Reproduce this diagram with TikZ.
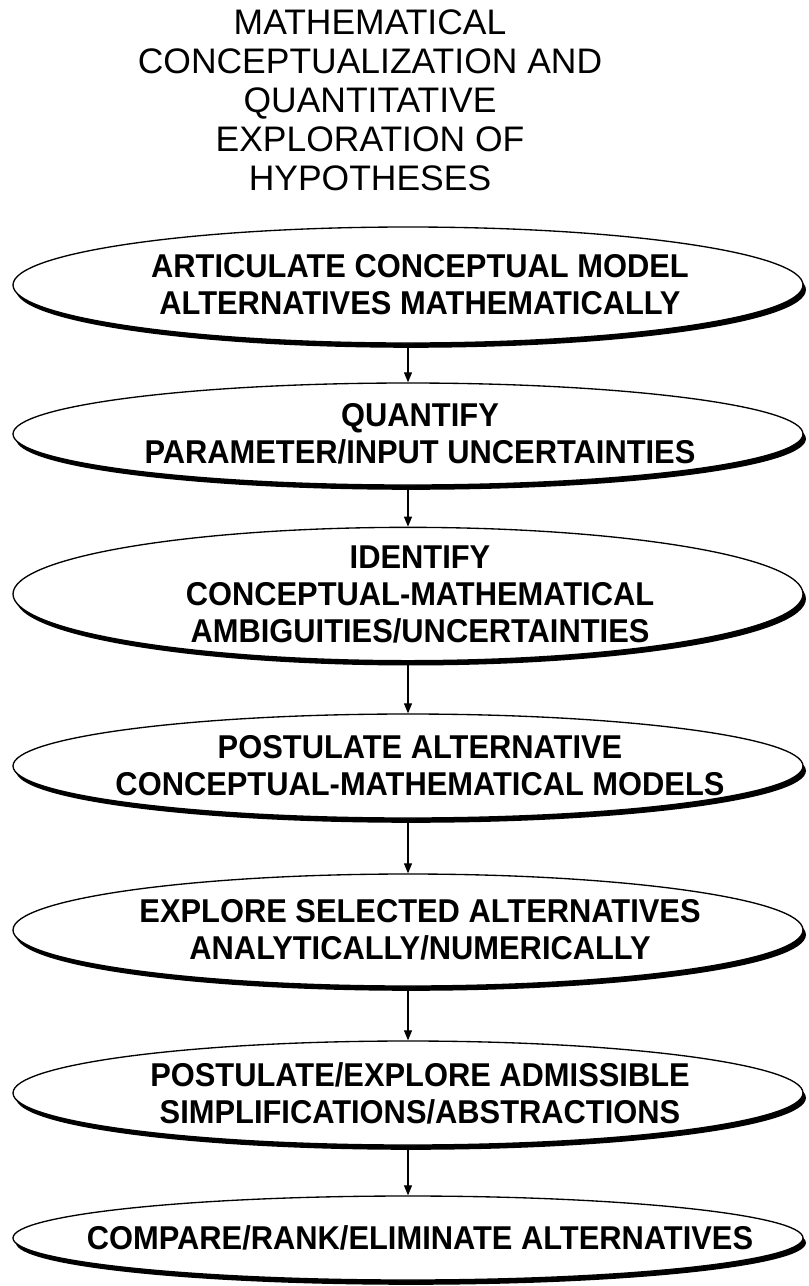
\documentclass[tikz,border=0pt]{standalone}
\usepackage{fontspec}
\setmainfont{Liberation Sans}
\newfontfamily\stagefont{Liberation Sans}[FakeStretch=0.935]
\usetikzlibrary{shapes.geometric}
\usetikzlibrary{shadows}
\usetikzlibrary{arrows.meta}

\begin{document}
\begin{tikzpicture}[x=0.75pt,y=0.75pt,yscale=-1,xscale=1,
  stage/.style={ellipse, draw, line width=1pt, fill=white, inner sep=0pt, minimum width=592.5pt,
    drop shadow={shadow xshift=2.2pt, shadow yshift=-3.6pt, opacity=1, fill=black}},
  stagetext/.style={align=center, inner sep=0pt, xshift=9pt,
    font=\stagefont\bfseries\fontsize{24.75pt}{27.75pt}\selectfont},
  flow/.style={-{Triangle[length=7.5pt,width=6pt]}, line width=0.8pt}]
%set diagram size 809 x 1286
\useasboundingbox (0,0) rectangle (809,1286);

% Text Node
\node [align=center, font=\fontsize{26.6pt}{29.25pt}\selectfont] (title) at (370,100) {MATHEMATICAL\\CONCEPTUALIZATION AND\\QUANTITATIVE\\EXPLORATION OF\\HYPOTHESES};

%Shape: Ellipse
\node [stage, minimum height=87pt] (articulate) at (408,285) {};
\node [stagetext] (articulate text) at (articulate.center) {ARTICULATE CONCEPTUAL MODEL\\ALTERNATIVES MATHEMATICALLY};
%Shape: Ellipse
\node [stage, minimum height=76.5pt] (quantify) at (408,434) {};
\node [stagetext] (quantify text) at (quantify.center) {QUANTIFY\\PARAMETER/INPUT UNCERTAINTIES};
%Shape: Ellipse
\node [stage, minimum height=100pt] (identify) at (408,594) {};
\node [stagetext] (identify text) at (identify.center) {IDENTIFY\\CONCEPTUAL-MATHEMATICAL\\AMBIGUITIES/UNCERTAINTIES};
%Shape: Ellipse
\node [stage, minimum height=78pt] (postulate) at (408,766) {};
\node [stagetext] (postulate text) at (postulate.center) {POSTULATE ALTERNATIVE\\CONCEPTUAL-MATHEMATICAL MODELS};
%Shape: Ellipse
\node [stage, minimum height=84pt] (explore) at (408,930) {};
\node [stagetext] (explore text) at (explore.center) {EXPLORE SELECTED ALTERNATIVES\\ANALYTICALLY/NUMERICALLY};
%Shape: Ellipse
\node [stage, minimum height=78pt] (simplify) at (408,1093) {};
\node [stagetext] (simplify text) at (simplify.center) {POSTULATE/EXPLORE ADMISSIBLE\\SIMPLIFICATIONS/ABSTRACTIONS};
%Shape: Ellipse
\node [stage, minimum height=63pt] (compare) at (408,1238) {};
\node [stagetext] (compare text) at (compare.center) {COMPARE/RANK/ELIMINATE ALTERNATIVES};

%Straight Lines
\draw [flow] (articulate) -- (quantify);
%Straight Lines
\draw [flow] (quantify) -- (identify);
%Straight Lines
\draw [flow] (identify) -- (postulate);
%Straight Lines
\draw [flow] (postulate) -- (explore);
%Straight Lines
\draw [flow] (explore) -- (simplify);
%Straight Lines
\draw [flow] (simplify) -- (compare);

\end{tikzpicture}
\end{document}
